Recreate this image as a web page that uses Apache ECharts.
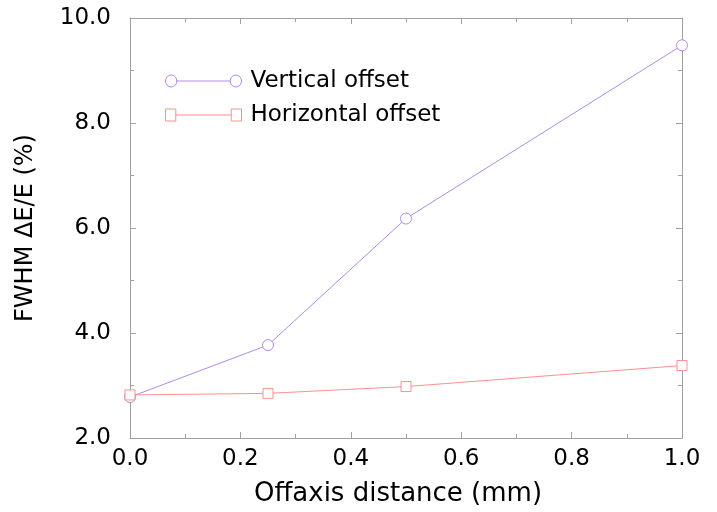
<!DOCTYPE html>
<html>
<head>
<meta charset="utf-8">
<script src="https://cdn.jsdelivr.net/npm/echarts@6/dist/echarts.min.js"></script>
<style>html,body{margin:0;padding:0;background:#fff}#c{width:717px;height:512px}</style>
</head>
<body>
<div id="c"></div>
<script>
var offsets = [0.0, 0.25, 0.5, 1.0];
var verticalOffset = [2.78, 3.77, 6.18, 9.48];
var horizontalOffset = [2.82, 2.85, 2.98, 3.38];
var seriesNames = ['Vertical offset', 'Horizontal offset'];
var xName = 'Offaxis distance (mm)';
var yName = 'FWHM \u0394E/E (%)';

var purple = '#b08ce8';
var red = '#ff8f8f';
var axisGray = '#a0a0a0';
var font = 'DejaVu Sans, sans-serif';

function pairs(xs, ys) { return xs.map(function (x, i) { return [x, ys[i]]; }); }

var axisCommon = {
  axisLine: { show: true, onZero: false, lineStyle: { color: axisGray, width: 1 } },
  axisTick: { show: true, inside: true, length: 6, lineStyle: { color: axisGray } },
  minorTick: { show: true, splitNumber: 2, length: 4, lineStyle: { color: axisGray } },
  splitLine: { show: false }
};

var chart = echarts.init(document.getElementById('c'));
chart.setOption({
  backgroundColor: '#fff',
  animation: false,
  grid: { left: 130, right: 35, top: 18, bottom: 74 },
  xAxis: [
    Object.assign({
      type: 'value', min: 0, max: 1, interval: 0.2, position: 'bottom',
      name: xName, nameLocation: 'middle', nameGap: 43,
      nameTextStyle: { fontFamily: font, fontSize: 26, color: '#000', padding: [0, 16, 0, 0] },
      axisLabel: { fontFamily: font, fontSize: 23, color: '#000', margin: 10,
        formatter: function (v) { return v.toFixed(1); } }
    }, axisCommon),
    Object.assign({
      type: 'value', min: 0, max: 1, interval: 0.2, position: 'top',
      axisLabel: { show: false }
    }, axisCommon)
  ],
  yAxis: [
    Object.assign({
      type: 'value', min: 2, max: 10, interval: 2, position: 'left',
      name: yName, nameLocation: 'middle', nameGap: 92, nameRotate: 90,
      nameTextStyle: { fontFamily: font, fontSize: 24, color: '#000' },
      axisLabel: { fontFamily: font, fontSize: 23, color: '#000', margin: 19,
        formatter: function (v) { return v.toFixed(1); } }
    }, axisCommon),
    Object.assign({
      type: 'value', min: 2, max: 10, interval: 2, position: 'right',
      axisLabel: { show: false }
    }, axisCommon)
  ],
  legend: {
    orient: 'vertical', left: 160, top: 64,
    itemWidth: 76, itemHeight: 12, itemGap: 10, symbolKeepAspect: false,
    textStyle: { fontFamily: font, fontSize: 23, color: '#000', lineHeight: 24, padding: [0, 0, 0, 4] },
    data: [
      { name: seriesNames[0],
        icon: 'path://M1,6.5a5.5,5.5 0 1,0 11,0a5.5,5.5 0 1,0 -11,0M12,6.5L64,6.5M64,6.5a5.5,5.5 0 1,0 11,0a5.5,5.5 0 1,0 -11,0',
        itemStyle: { color: 'rgba(0,0,0,0)', borderColor: purple, borderWidth: 1 } },
      { name: seriesNames[1],
        icon: 'path://M1,1H11V11H1ZM11,6L65,6M65,1H75V11H65Z',
        itemStyle: { color: 'rgba(0,0,0,0)', borderColor: red, borderWidth: 1 } }
    ]
  },
  series: [
    { name: seriesNames[0], type: 'line', data: pairs(offsets, verticalOffset),
      symbol: 'circle', symbolSize: 11, color: purple,
      lineStyle: { color: purple, width: 1 },
      itemStyle: { color: '#fff', borderColor: purple, borderWidth: 1 } },
    { name: seriesNames[1], type: 'line', data: pairs(offsets, horizontalOffset),
      symbol: 'rect', symbolSize: 10, color: red,
      lineStyle: { color: red, width: 1 },
      itemStyle: { color: '#fff', borderColor: red, borderWidth: 1 } }
  ]
});
</script>
</body>
</html>
